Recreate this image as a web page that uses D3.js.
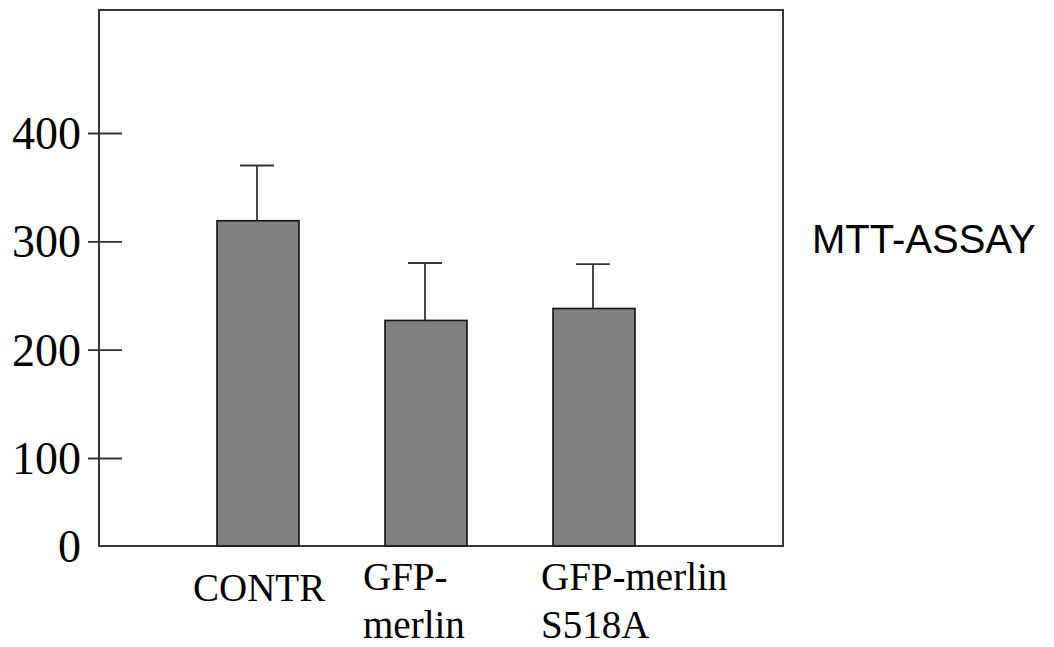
<!DOCTYPE html>
<html>
<head>
<meta charset="utf-8">
<script src="https://cdn.jsdelivr.net/npm/d3@7"></script>
<style>
  body { margin: 0; background: #fff; }
</style>
</head>
<body>
<div id="chart"></div>
<script>
// data
var categories = ["CONTR", "GFP-merlin", "GFP-merlin S518A"];
var labelLines = [["CONTR"], ["GFP-", "merlin"], ["GFP-merlin", "S518A"]];
var means = [319, 227, 238];
var errTops = [370, 280, 279];
var yTicks = [0, 100, 200, 300, 400];
var title = "MTT-ASSAY";

var svg = d3.select("#chart").append("svg")
    .attr("width", 1054)
    .attr("height", 647);

// the printed axis is not quite even, so map it piecewise
var y = d3.scaleLinear()
    .domain([0, 100, 400, 514])
    .range([546, 458, 133, 10]);

var x = d3.scaleBand()
    .domain(categories)
    .range([174, 678])
    .paddingInner(0.512)
    .paddingOuter(0.256);

// bars
svg.selectAll("rect.bar")
    .data(categories)
    .enter().append("rect")
    .attr("class", "bar")
    .attr("x", function(d) { return x(d); })
    .attr("width", x.bandwidth())
    .attr("y", function(d, i) { return y(means[i]); })
    .attr("height", function(d, i) { return y(0) - y(means[i]); })
    .style("fill", "#808080")
    .style("stroke", "#111")
    .style("stroke-width", 1.6);

// error bars (upper only)
var err = svg.selectAll("g.err")
    .data(categories)
    .enter().append("g")
    .attr("class", "err")
    .attr("transform", function(d) { return "translate(" + (x(d) + x.bandwidth() / 2 - 1) + ",0)"; });

err.append("line")
    .attr("x1", 0).attr("x2", 0)
    .attr("y1", function(d, i) { return y(means[i]); })
    .attr("y2", function(d, i) { return y(errTops[i]); })
    .style("stroke", "#333").style("stroke-width", 1.8);

err.append("line")
    .attr("x1", -17).attr("x2", 17)
    .attr("y1", function(d, i) { return y(errTops[i]); })
    .attr("y2", function(d, i) { return y(errTops[i]); })
    .style("stroke", "#333").style("stroke-width", 1.8);

// frame
svg.append("rect")
    .attr("x", 99).attr("y", 10)
    .attr("width", 684).attr("height", 536)
    .style("fill", "none")
    .style("stroke", "#222")
    .style("stroke-width", 1.8);

// y axis: ticks cross the frame line
var yAxis = svg.append("g")
    .attr("transform", "translate(122,0)")
    .call(d3.axisLeft(y).tickValues(yTicks).tickSize(34).tickPadding(7).tickFormat(d3.format("d")));

yAxis.select(".domain").remove();
yAxis.selectAll(".tick line")
    .style("stroke", "#333")
    .style("stroke-width", 1.8)
    .filter(function(d) { return d === 0; }).remove();
yAxis.selectAll(".tick text")
    .style("font-family", "'Liberation Serif', 'Times New Roman', serif")
    .style("font-size", "46px")
    .style("fill", "#000")
    .attr("dy", "0.34em");

// category labels
var labelX = [193, 363, 541];
var lab = svg.selectAll("text.cat")
    .data(categories)
    .enter().append("text")
    .attr("class", "cat")
    .attr("x", function(d, i) { return labelX[i]; })
    .attr("y", function(d, i) { return labelLines[i].length === 1 ? 601 : 590; })
    .style("font-family", "'Liberation Serif', 'Times New Roman', serif")
    .style("font-size", "39px")
    .style("fill", "#000");

lab.selectAll("tspan")
    .data(function(d, i) { return labelLines[i]; })
    .enter().append("tspan")
    .attr("x", function() { return d3.select(this.parentNode).attr("x"); })
    .attr("dy", function(d, j) { return j === 0 ? 0 : 48; })
    .text(function(d) { return d; });

// side title
svg.append("text")
    .attr("x", 812)
    .attr("y", 253)
    .style("font-family", "'Liberation Sans', Arial, sans-serif")
    .style("font-size", "40px")
    .style("fill", "#000")
    .text(title);
</script>
</body>
</html>
